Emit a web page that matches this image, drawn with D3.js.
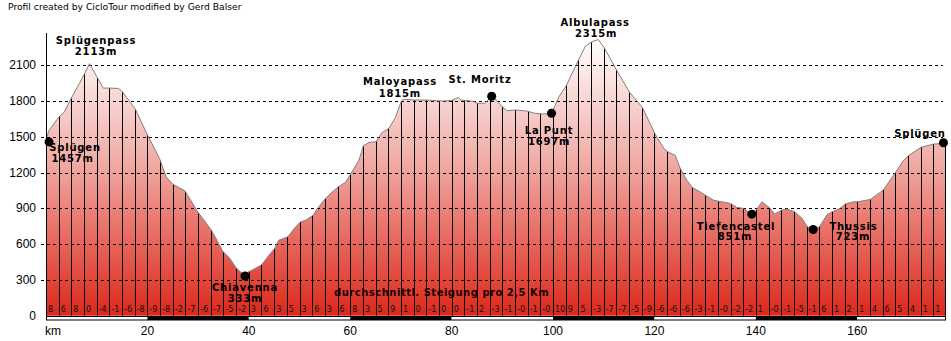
<!DOCTYPE html>
<html><head><meta charset="utf-8">
<script src="https://cdn.jsdelivr.net/npm/d3@7/dist/d3.min.js"></script>
<style>body{margin:0;background:#fff}svg{display:block}</style>
</head><body><svg id="chart" width="951" height="341"></svg>
<script>
// ---- data ----
const profileKm = [0,0.6,2.5,3.6,4.9,7.4,8.6,10.0,11.3,12.4,14.3,14.9,17.6,19.9,22.4,23.7,25.0,26.3,27.4,29.9,32.6,34.9,36.2,37.5,38.8,39.2,39.8,40.7,42.5,44.0,45.1,45.9,47.7,49.2,50.2,51.2,52.7,53.5,55.1,56.4,57.6,59.1,60.1,61.7,62.6,63.7,65.1,66.3,67.6,68.9,70.1,70.6,72.6,75.2,77.7,78.5,80.0,81.3,81.8,84.3,85.1,86.6,87.9,88.6,90.1,90.9,92.6,95.0,96.4,97.6,99.7,101.1,102.6,104.0,105.1,106.4,107.7,108.9,110.1,112.6,115.1,117.6,120.1,121.9,122.7,124.1,125.1,126.4,127.5,129.0,130.0,131.6,132.5,135.0,136.25,137.5,139.2,140.1,141.2,142.6,143.8,145.1,146.1,147.6,149.1,150.1,151.3,152.6,154.0,155.1,156.6,157.6,159.3,160.1,161.9,162.6,165.1,167.6,169.1,170.1,172.6,175.1,177.5];
const profileElev = [1480,1553,1664,1706,1817,2011,2113,2005,1908,1908,1905,1886,1733,1525,1317,1164,1103,1072,1047,872,719,539,483,400,350,333,365,383,425,508,564,633,661,744,786,800,842,897,981,1036,1078,1119,1189,1300,1425,1453,1458,1536,1569,1661,1800,1815,1808,1808,1800,1800,1805,1830,1808,1797,1781,1781,1840,1817,1747,1719,1725,1714,1697,1692,1692,1831,1928,2053,2150,2261,2297,2315,2247,2053,1872,1747,1525,1400,1372,1344,1233,1135,1074,1038,1011,969,961,941,908,900,851,886,955,908,853,886,894,872,817,748,715,748,845,872,900,936,955,955,969,975,1052,1204,1301,1342,1412,1439,1445];
const gradientLabels = ["8","6","8","0","-4","-1","-6","-8","-9","-8","-2","-7","-6","-7","-5","-2","3","6","3","5","3","6","3","6","8","3","5","9","1","0","-1","0","0","-1","2","-3","-1","-0","-1","-0","10","9","5","-3","-7","-7","-5","-9","-6","-6","-6","-3","-1","-0","-2","-2","1","-0","-1","-5","-1","6","1","2","1","4","6","5","4","1","1"];
const segmentKm = 2.5;
const totalKm = 177.5;
const yTicks = [0,300,600,900,1200,1500,1800,2100];
const xTicks = [20,40,60,80,100,120,140,160];
const barKm = [0,20,40,60,80,100,120,140,160,177.5];
const placeNames = ["Splügen","Splügenpass","Chiavenna","Maloyapass","St. Moritz","La Punt","Albulapass","Tiefencastel","Thussis","Splügen"];
const placeKm =    [0.6,8.6,39.25,70.6,87.9,99.7,108.9,139.2,151.3,177.0];
const placeElev =  [1457,2113,333,1815,1840,1697,2315,851,723,1450];
const placeDot =   [true,false,true,false,true,true,false,true,true,true];
const placeShowElev=[true,true,true,true,false,true,true,true,true,false];
const titleText = "Profil created by CicloTour modified by Gerd Balser";
const captionText = "durchschnittl. Steigung pro 2,5 Km";

// ---- layout ----
const labelOffset = [[26,8.8,23.5,19.8],[6.4,-19.7,6.4,-8.7],[0,14.7,0,25.7],[-4,-14.2,-4,-2.5],[-11.7,-13.5,0,0],[-2.5,20.7,-2.5,31.7],[-3,-13.6,-2,-2.9],[-15.8,15.8,-16.8,25.8],[40.3,0.5,39.8,10.5],[-23.5,-6,0,0]];

const svg = d3.select("#chart");
const x = d3.scaleLinear().domain([0,totalKm]).range([46,946]);
const y = d3.scaleLinear().domain([0,2370]).range([315.7,33]);

const defs = svg.append("defs");
const grad = defs.append("linearGradient").attr("id","fillGrad")
  .attr("gradientUnits","userSpaceOnUse").attr("x1",0).attr("x2",0)
  .attr("y1",y(2330)).attr("y2",y(0));
grad.append("stop").attr("offset","0").attr("stop-color","#ffffff");
grad.append("stop").attr("offset","0.45").attr("stop-color","#f1aaa4");
grad.append("stop").attr("offset","1").attr("stop-color","#dc281a");

const pts = profileKm.map((k,i)=>[k,profileElev[i]]);
const area = d3.area().x(d=>x(d[0])).y0(y(0)).y1(d=>y(d[1]));
const line = d3.line().x(d=>x(d[0])).y(d=>y(d[1]));

defs.append("clipPath").attr("id","areaClip").append("path").attr("d",area(pts));

svg.append("path").attr("d",area(pts)).attr("fill","url(#fillGrad)");

// vertical segment lines
const segs = d3.range(1, Math.round(totalKm/segmentKm));
svg.append("g").attr("clip-path","url(#areaClip)")
  .selectAll("line").data(segs).join("line")
  .attr("x1",d=>Math.round(x(d*segmentKm))+0.5).attr("x2",d=>Math.round(x(d*segmentKm))+0.5)
  .attr("y1",y(0)).attr("y2",y(2370))
  .attr("stroke","#000").attr("stroke-width",1);
// right edge
svg.append("line").attr("x1",x(totalKm)-0.5).attr("x2",x(totalKm)-0.5)
  .attr("y1",y(0)).attr("y2",y(profileElev[profileElev.length-1]))
  .attr("stroke","#000");

// grid
svg.append("g").selectAll("line").data(yTicks.filter(t=>t>0)).join("line")
  .attr("x1",41).attr("x2",943)
  .attr("y1",d=>Math.round(y(d))+0.5).attr("y2",d=>Math.round(y(d))+0.5)
  .attr("stroke","#000").attr("stroke-dasharray","3,3").attr("stroke-width",1);

// outline
svg.append("path").attr("d",line(pts)).attr("fill","none").attr("stroke","#808080").attr("stroke-width",1);

// gradient labels
svg.append("g").selectAll("text").data(gradientLabels).join("text")
  .attr("x",(d,i)=>x(i*segmentKm)+2).attr("y",311.5)
  .attr("font-family","DejaVu Sans").attr("font-size","8px").attr("fill","#111")
  .text(d=>d);

// caption
svg.append("text").attr("x",(x(60)+x(100))/2 - 10).attr("y",295.5).attr("text-anchor","middle")
  .attr("font-family","DejaVu Sans").attr("font-weight","bold").attr("font-size","10px")
  .attr("letter-spacing","0.5px").attr("fill","#1a0000").text(captionText);

// km bar
const barG = svg.append("g");
barKm.slice(0,-1).forEach((k,i)=>{
  barG.append("rect").attr("x",x(k)).attr("y",316).attr("width",x(barKm[i+1])-x(k)).attr("height",4)
    .attr("fill", i%2? "#000":"#fff");
});
barG.append("rect").attr("x",x(0)+0.5).attr("y",316.5).attr("width",x(totalKm)-x(0)-1).attr("height",3.5)
  .attr("fill","none").attr("stroke","#000");

// y axis
svg.append("line").attr("x1",46.5).attr("x2",46.5).attr("y1",33).attr("y2",320).attr("stroke","#000");
svg.append("g").selectAll("text").data(yTicks).join("text")
  .attr("x",36).attr("y",d=>y(d)+4).attr("text-anchor","end")
  .attr("font-family","Liberation Sans, Arial").attr("font-size","12px").attr("fill","#000")
  .text(d=>d);

// x axis labels
svg.append("g").selectAll("text").data(xTicks).join("text")
  .attr("x",d=>x(d)).attr("y",335).attr("text-anchor","middle")
  .attr("font-family","Liberation Sans, Arial").attr("font-size","12px").text(d=>d);
svg.append("text").attr("x",45).attr("y",335).attr("font-family","Liberation Sans, Arial").attr("font-size","12px").text("km");

// title
svg.append("text").attr("x",8).attr("y",10).attr("font-family","DejaVu Sans").attr("font-size","9.2px").text(titleText);

// places
placeNames.forEach((n,i)=>{
  const ax = x(placeKm[i]), ay = y(placeElev[i]);
  const o = labelOffset[i];
  if (placeDot[i]) svg.append("circle").attr("cx",ax).attr("cy",ay).attr("r",4.5).attr("fill","#000");
  const t = svg.append("g").attr("font-family","DejaVu Sans").attr("font-weight","bold")
    .attr("font-size","10px").attr("letter-spacing","0.8px").attr("text-anchor","middle").attr("fill","#000");
  t.append("text").attr("x",ax+o[0]).attr("y",ay+o[1]).text(n);
  if (placeShowElev[i]) t.append("text").attr("x",ax+o[2]).attr("y",ay+o[3]).text(placeElev[i]+"m");
});
</script></body></html>
